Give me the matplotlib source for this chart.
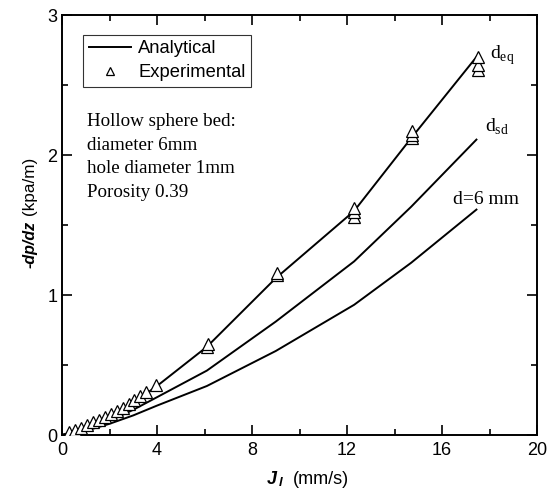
import matplotlib
matplotlib.use("Agg")
import matplotlib.pyplot as plt
from matplotlib.ticker import MultipleLocator

# Analytical curves
x_curve = [0, 1, 2, 3, 4, 6.1, 9, 12.3, 14.7, 17.45]
y_eq = [0, 0.05, 0.13, 0.23, 0.35, 0.63, 1.12, 1.60, 2.12, 2.70]
y_sd = [0, 0.04, 0.10, 0.18, 0.27, 0.46, 0.81, 1.24, 1.63, 2.11]
y_6mm = [0, 0.03, 0.08, 0.14, 0.21, 0.35, 0.60, 0.93, 1.23, 1.61]

# Experimental points
x_exp = [0.3, 0.55, 0.8, 1.05, 1.3, 1.55, 1.8, 2.05, 2.3, 2.55, 2.8, 3.05, 3.3, 3.55, 3.95,
         6.1, 6.15, 9.05, 9.05, 12.3, 12.3, 12.3, 14.75, 14.75, 14.75, 17.5, 17.5, 17.5]
y_exp = [0.02, 0.035, 0.05, 0.07, 0.09, 0.11, 0.13, 0.15, 0.17, 0.19, 0.22, 0.25, 0.28, 0.31, 0.36,
         0.63, 0.65, 1.14, 1.16, 1.56, 1.59, 1.62, 2.12, 2.14, 2.17, 2.61, 2.64, 2.70]

sans = "Liberation Sans"
serif = "Liberation Serif"
plt.rcParams["mathtext.fontset"] = "custom"
plt.rcParams["mathtext.rm"] = serif

W, H = 547, 491
fig = plt.figure(figsize=(W / 100, H / 100), dpi=100)
ax = fig.add_axes([62 / W, 1 - 435 / H, 475 / W, 420 / H])

ax.plot(x_curve, y_eq, color="black", lw=1.4, label="Analytical", zorder=2)
ax.plot(x_curve, y_sd, color="black", lw=1.4, zorder=2)
ax.plot(x_curve, y_6mm, color="black", lw=1.4, zorder=2)
ax.plot(x_exp, y_exp, linestyle="none", marker="^", markersize=8.5,
        markerfacecolor="white", markeredgecolor="black", markeredgewidth=0.9,
        label="Experimental", zorder=3)

ax.set_xlim(0, 20)
ax.set_ylim(0, 3)
ax.xaxis.set_major_locator(MultipleLocator(4))
ax.xaxis.set_minor_locator(MultipleLocator(2))
ax.yaxis.set_major_locator(MultipleLocator(1))
ax.yaxis.set_minor_locator(MultipleLocator(0.5))
ax.tick_params(which="both", direction="in", top=True, right=True, width=1.2,
               labelsize=13)
ax.tick_params(which="major", length=7)
ax.tick_params(which="minor", length=4)
ax.tick_params(axis="x", pad=5)
for lab in ax.get_xticklabels() + ax.get_yticklabels():
    lab.set_fontfamily(sans)
for sp in ax.spines.values():
    sp.set_linewidth(1.4)

leg = ax.legend(loc="upper left", bbox_to_anchor=((83 - 62) / 475, (435 - 35) / 420),
                frameon=True, fancybox=False, edgecolor="black", handlelength=2.3,
                prop={"family": sans, "size": 13.2}, borderpad=0.3, markerscale=0.75,
                labelspacing=0.38, handletextpad=0.4, borderaxespad=0)
leg.get_frame().set_linewidth(0.8)

ax.text(0.053, (435 - 157) / 420,
        "Hollow sphere bed:\ndiameter 6mm\nhole diameter 1mm\nPorosity 0.39",
        transform=ax.transAxes, family=serif, fontsize=13.7, va="center", ha="left",
        linespacing=1.5)

ax.text(18.0, 2.71, r"d$_{\mathregular{eq}}$", family=serif, fontsize=14, va="center")
ax.text(17.8, 2.2, r"d$_{\mathregular{sd}}$", family=serif, fontsize=14, va="center")
ax.text(16.45, 1.68, "d=6 mm", family=serif, fontsize=14, va="center")

def fx(px):
    return px / W

def fy(py):
    return 1 - py / H

# y label
fig.text(fx(30), fy(268), "-dp/dz", rotation=90, rotation_mode="anchor",
         family=sans, fontsize=11.5, fontweight="bold", fontstyle="italic",
         ha="left", va="center")
fig.text(fx(30), fy(215), "(kpa/m)", rotation=90, rotation_mode="anchor",
         family=sans, fontsize=12.3, ha="left", va="center")

# x label
fig.text(fx(267), fy(480), "J", family=sans, fontsize=13,
         fontweight="bold", fontstyle="italic", ha="left", va="center")
fig.text(fx(279), fy(483), "l", family=sans, fontsize=9.5,
         fontweight="bold", fontstyle="italic", ha="left", va="center")
fig.text(fx(293), fy(479), "(mm/s)", family=sans, fontsize=13,
         ha="left", va="center")

fig.savefig("out.png", dpi=100)
